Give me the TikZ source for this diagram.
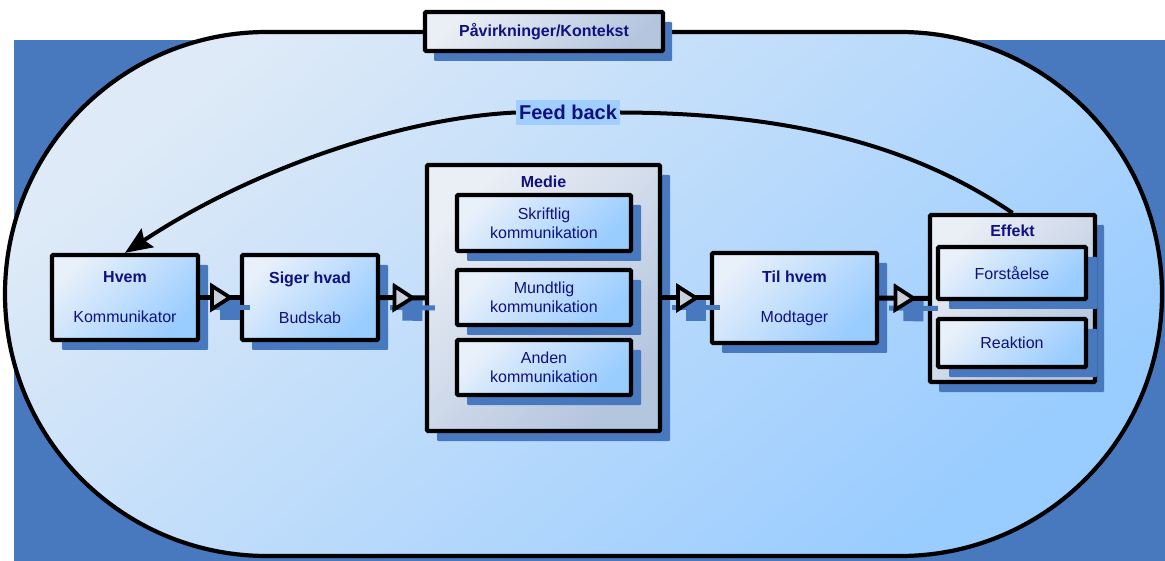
\documentclass[tikz,border=0pt]{standalone}
\usepackage{fontspec}
\setmainfont{Liberation Sans}
\usetikzlibrary{calc,shadows,decorations.markings,arrows.meta}

\definecolor{shadowblue}{RGB}{72,120,190}
\definecolor{navy}{RGB}{16,16,128}
\definecolor{stlight}{RGB}{222,234,247}
\definecolor{stmid}{RGB}{176,214,252}
\definecolor{stblue}{RGB}{153,204,255}
\definecolor{boxlight}{RGB}{232,240,250}
\definecolor{boxmid}{RGB}{178,216,253}
\definecolor{boxblue}{RGB}{153,204,255}
\definecolor{greylight}{RGB}{234,238,245}
\definecolor{greymid}{RGB}{205,216,233}
\definecolor{greydark}{RGB}{180,197,222}
\definecolor{trifill}{RGB}{200,208,220}
\definecolor{fbfill}{RGB}{160,206,255}

\newcommand\boxfont{\fontsize{16}{19}\selectfont}

\begin{document}
\begin{tikzpicture}[x=1pt,y=-1pt,
  boxshadow/.style={general shadow={fill=shadowblue, shadow xshift=#1, shadow yshift=-10pt}},
  boxshadow/.default=10pt,
  bluebox/.style={draw, line width=4.2pt, rounded corners=1pt,
    top color=boxlight, middle color=boxmid, bottom color=boxblue, shading angle=45,
    text=navy, font=\boxfont, align=center, inner sep=0pt},
  greybox/.style={draw, line width=4.2pt, rounded corners=1pt,
    top color=greylight, middle color=greymid, bottom color=greydark, shading angle=45,
    text=navy, font=\boxfont, align=center, inner sep=0pt},
  boxlabel/.style={text=navy, font=\boxfont\bfseries, inner sep=0pt},
  flow/.style={line width=5pt, postaction={decorate},
    decoration={markings, mark=at position 0.5 with
      {\draw[line width=3.8pt, fill=trifill, line join=miter] (-8,-11.5) -- (10,0) -- (-8,11.5) -- cycle;}}},
  flowshadow/.style={line width=5pt, draw=shadowblue, postaction={decorate},
    decoration={markings, mark=at position 0.5 with
      {\fill[shadowblue] (-10,-12) rectangle (10,13);}}},
  fbline/.style={line width=4pt}
]
\useasboundingbox (0,0) rectangle (1165,561);

% backdrop and context stadium
\fill[shadowblue] (14,40) rectangle (1165,561);
\draw[line width=4.2pt, top color=stlight, middle color=stmid, bottom color=stblue,
      shading angle=40, rounded corners=261.9pt] (5,32) rectangle (1162,556);

% context title
\node[greybox, boxshadow=9pt, minimum width=238pt, minimum height=39pt] (kontekst)
  at (544,31.5) {\textbf{Påvirkninger/Kontekst}};

% main chain
\node[bluebox, boxshadow, minimum width=146pt, minimum height=85pt] (hvem)
  at (125,297.5) {\textbf{Hvem}\\[21pt]Kommunikator};
\node[bluebox, boxshadow, minimum width=136pt, minimum height=85pt] (siger)
  at (310,297.5) {\textbf{Siger hvad}\\[21pt]Budskab};

\node[greybox, boxshadow, minimum width=233pt, minimum height=266pt] (medie)
  at (543.5,298) {};
\node[boxlabel] (medielabel) at (543.5,182) {Medie};
\node[bluebox, boxshadow, minimum width=174pt, minimum height=56pt] (skriftlig)
  at (544,223) {Skriftlig\\kommunikation};
\node[bluebox, boxshadow, minimum width=174pt, minimum height=55pt] (mundtlig)
  at (544,297.5) {Mundtlig\\kommunikation};
\node[bluebox, boxshadow, minimum width=174pt, minimum height=55pt] (anden)
  at (544,367.5) {Anden\\kommunikation};

\node[bluebox, boxshadow, minimum width=165pt, minimum height=90pt] (tilhvem)
  at (794.5,298) {\textbf{Til hvem}\\[21pt]Modtager};

\node[greybox, boxshadow=9pt, minimum width=165pt, minimum height=167pt] (effekt)
  at (1012.5,298.5) {};
\node[boxlabel] (effektlabel) at (1012.5,231) {Effekt};
\node[bluebox, boxshadow=11pt, minimum width=148pt, minimum height=52pt] (forst)
  at (1012,273) {Forståelse};
\node[bluebox, boxshadow=11pt, minimum width=148pt, minimum height=48pt] (reakt)
  at (1012,343) {Reaktion};

% connector shadows
\draw[flowshadow] ($(hvem.east)+(10,10)$) -- ($(siger.west)+(10,10)$);
\draw[flowshadow] ($(siger.east)+(10,10)$) -- ($(medie.west)+(10,10)$);
\draw[flowshadow] ($(medie.east)+(10,10)$) -- ($(tilhvem.west)+(10,10)$);
\draw[flowshadow] ($(tilhvem.east)+(10,10)$) -- ($(effekt.west)+(10,10)$);

% connectors
\draw[flow] (hvem.east) -- (siger.west);
\draw[flow] (siger.east) -- (medie.west);
\draw[flow] (medie.east) -- (tilhvem.west);
\draw[flow] (tilhvem.east) -- (effekt.west);

% feedback loop
\node[fill=fbfill, minimum width=104pt, minimum height=25pt, inner sep=0pt,
      text=navy, font=\fontsize{20}{24}\selectfont\bfseries] (fb) at (568,112.5) {Feed back};
\draw[fbline] (effekt.north) .. controls (920,150) and (800,113) .. (fb.east);
\draw[fbline, -{Stealth[length=27pt,width=22pt,inset=4pt]}] (fb.west) .. controls (400,118) and (250,170) .. (hvem.north);
\end{tikzpicture}
\end{document}
